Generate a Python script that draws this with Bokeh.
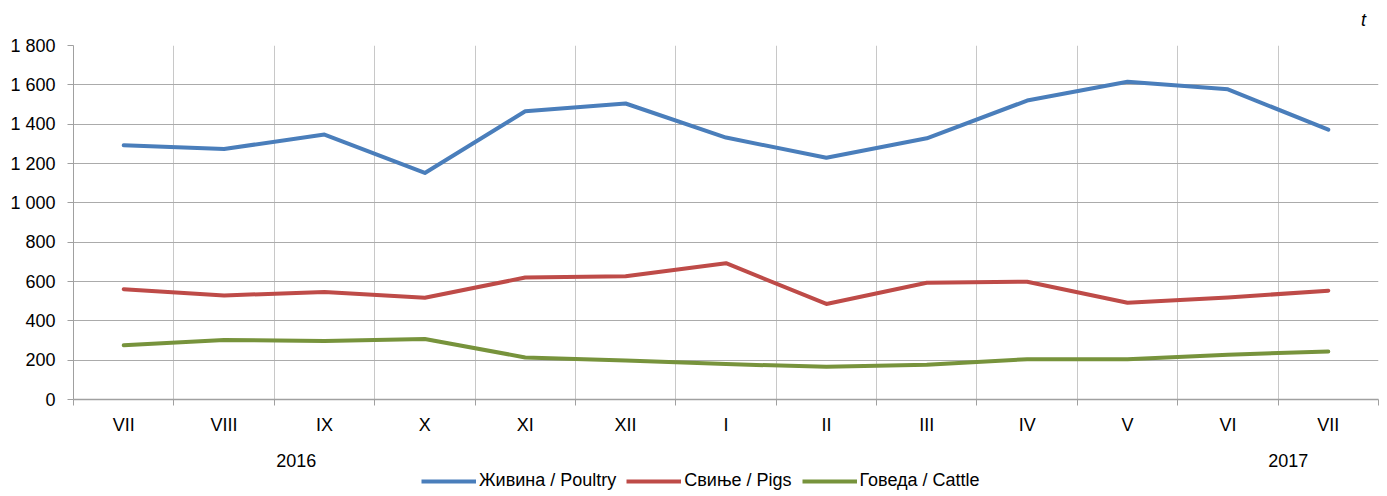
from bokeh.plotting import figure
from bokeh.models import FixedTicker, Legend, LegendItem, Range1d, LinearAxis, Label
from bokeh.layouts import column
from bokeh.embed import file_html
from bokeh.resources import INLINE

months = ["VII", "VIII", "IX", "X", "XI", "XII", "I", "II", "III", "IV", "V", "VI", "VII"]
poultry = [1293, 1274, 1347, 1152, 1466, 1505, 1332, 1229, 1328, 1520, 1616, 1577, 1372]
pigs = [561, 529, 547, 517, 620, 627, 693, 486, 594, 599, 492, 519, 553]
cattle = [276, 302, 298, 308, 214, 198, 180, 166, 177, 205, 205, 228, 244]
series_names = ["Живина / Poultry", "Свиње / Pigs", "Говеда / Cattle"]
colors = ["#4A7EBB", "#BE4B48", "#77933C"]
y_ticks = [0, 200, 400, 600, 800, 1000, 1200, 1400, 1600, 1800]
y_tick_labels = ["0", "200", "400", "600", "800", "1 000", "1 200", "1 400", "1 600", "1 800"]
years = ["2016", "2017"]
year_pos = [2.22, 12.1]
unit_label = "t"
unit_pos = 12.85

FONT = "Liberation Sans"
FS = "18px"
n = len(months)
xs = [i + 0.5 for i in range(n)]
series = [poultry, pigs, cattle]

p = figure(frame_width=1305, frame_height=354, output_backend="svg", toolbar_location=None,
           x_range=Range1d(0, n), y_range=Range1d(0, 1800),
           min_border_left=73, min_border_right=1, min_border_top=45, min_border_bottom=0)
p.outline_line_color = None

for vals, c in zip(series, colors):
    p.line(xs, vals, line_color=c, line_width=4, line_join="round", line_cap="round")

# x axis (months)
p.xaxis.ticker = FixedTicker(ticks=xs, minor_ticks=list(range(n + 1)))
p.xaxis.major_label_overrides = {x: m for x, m in zip(xs, months)}
p.xaxis.major_tick_line_color = None
p.xaxis.major_tick_out = 0
p.xaxis.major_tick_in = 0
p.xaxis.minor_tick_out = 6
p.xaxis.minor_tick_in = 0
p.xaxis.minor_tick_line_color = "#A0A0A0"
p.xaxis.axis_line_color = "#A0A0A0"
p.xaxis.axis_line_width = 1.5
p.xaxis.major_label_standoff = 9
p.xaxis.major_label_text_font = FONT
p.xaxis.major_label_text_font_size = FS
p.xaxis.major_label_text_color = "#000000"
p.xgrid.ticker = FixedTicker(ticks=list(range(n + 1)))
p.xgrid.grid_line_color = "#C8C8C8"
p.xgrid.grid_line_width = 1

# unit axis above
uax = LinearAxis(ticker=FixedTicker(ticks=[unit_pos]),
                 major_label_overrides={unit_pos: unit_label},
                 axis_label=None, axis_label_standoff=0,
                 axis_line_color=None, major_tick_line_color=None, minor_tick_line_color=None,
                 major_tick_out=0, major_tick_in=0, minor_tick_out=0, minor_tick_in=0,
                 major_label_standoff=16, major_label_text_font=FONT,
                 major_label_text_font_style="italic",
                 major_label_text_font_size=FS, major_label_text_color="#000000")
p.add_layout(uax, "above")

# y axis
p.yaxis.ticker = FixedTicker(ticks=y_ticks)
p.yaxis.major_label_overrides = {v: s for v, s in zip(y_ticks, y_tick_labels)}
p.yaxis.axis_line_color = "#A0A0A0"
p.yaxis.major_tick_line_color = "#A0A0A0"
p.yaxis.major_tick_out = 6
p.yaxis.major_tick_in = 0
p.yaxis.minor_tick_line_color = None
p.yaxis.major_label_standoff = 12
p.yaxis.major_label_text_font = FONT
p.yaxis.major_label_text_font_size = FS
p.yaxis.major_label_text_color = "#000000"
p.ygrid.grid_line_color = "#ABABAB"
p.ygrid.grid_line_width = 1.2

# lower strip: year labels and legend
H2 = 58
p2 = figure(frame_width=1305, frame_height=H2, output_backend="svg", toolbar_location=None,
            x_range=p.x_range, y_range=Range1d(0, H2), x_axis_type=None, y_axis_type=None,
            min_border_left=73, min_border_right=1, min_border_top=0, min_border_bottom=0)
p2.outline_line_color = None
p2.grid.visible = False

for yr, xp in zip(years, year_pos):
    p2.add_layout(Label(x=xp, y=H2 - 23, text=yr, text_font=FONT, text_font_size=FS,
                        text_align="center", text_baseline="middle", text_color="#000000"))

# legend renderers: same series, lying outside this strip's visible range
keys = [p2.line(xs, vals, line_color=c, line_width=4) for vals, c in zip(series, colors)]
legend = Legend(items=[LegendItem(label=nm, renderers=[r]) for nm, r in zip(series_names, keys)],
                orientation="horizontal", location=(348, H2 - 46 - 8),
                label_text_font=FONT, label_text_font_size=FS, label_text_color="#000000",
                glyph_width=55, glyph_height=16, label_height=16, label_standoff=3, spacing=10,
                padding=0, margin=0, border_line_color=None, background_fill_alpha=0)
p2.add_layout(legend)

layout = column(p, p2, spacing=0)
open("out.html", "w").write(file_html(layout, INLINE))
